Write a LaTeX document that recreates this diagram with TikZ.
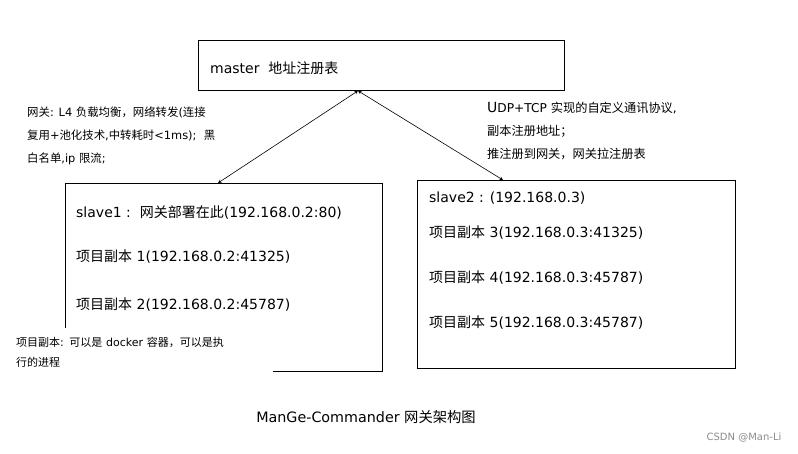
\documentclass[tikz,border=0pt]{standalone}
\usepackage{fontspec}
\setmainfont{DejaVu Sans}
\newfontfamily\zhfont{Noto Sans CJK SC}
\newcommand{\zh}[1]{{\zhfont #1}}

\begin{document}
\begin{tikzpicture}[x=1pt,y=-1pt,>=stealth,
    box/.style={draw, line width=0.8pt, anchor=north west, inner sep=0pt},
    txt/.style={anchor=west, inner sep=0pt, font=\fontsize{14}{16}\selectfont},
    note/.style={anchor=north west, align=left, inner sep=0pt, font=\fontsize{11.4}{23}\selectfont}]
  \useasboundingbox (0,0) rectangle (798,453);

  % boxes
  \node[box, minimum width=366pt, minimum height=50pt] (master) at (198,40) {};
  \node[box, minimum width=317pt, minimum height=188pt] (slave1) at (65,183) {};
  \node[box, minimum width=318pt, minimum height=188pt] (slave2) at (417,180) {};

  % master
  \node[txt] (mastertxt) at (210,68) {master\ \ \zh{地址注册表}};

  % slave1
  \node[txt] (s1head) at (76,213) {slave1 :\ \ \zh{网关部署在此}(192.168.0.2:80)};
  \node[txt] (s1rep1) at (76,257) {\zh{项目副本} 1(192.168.0.2:41325)};
  \node[txt] (s1rep2) at (76,305) {\zh{项目副本} 2(192.168.0.2:45787)};

  % slave2
  \node[txt] (s2head) at (429,198) {slave2 : (192.168.0.3)};
  \node[txt] (s2rep3) at (429,233) {\zh{项目副本} 3(192.168.0.3:41325)};
  \node[txt] (s2rep4) at (429,278) {\zh{项目副本} 4(192.168.0.3:45787)};
  \node[txt] (s2rep5) at (429,323) {\zh{项目副本} 5(192.168.0.3:45787)};

  % links
  \coordinate (mx) at (358,0);
  \coordinate (s1x) at (218,0);
  \coordinate (s2x) at (503,0);
  \draw[<->, line width=0.6pt] (master.south -| mx) -- (slave1.north -| s1x);
  \draw[<->, line width=0.6pt] (master.south -| mx) -- (slave2.north -| s2x);

  % notes
  \node[note] (gwnote) at (27,107) {\zh{网关}: L4 \zh{负载均衡，网络转发}(\zh{连接}\\
    \zh{复用}+\zh{池化技术},\zh{中转耗时}<1ms);\ \ \zh{黑}\\
    \zh{白名单},ip \zh{限流};};
  \node[note, font=\fontsize{12.2}{23}\selectfont] (protonote) at (487,102)
    {{\fontsize{14}{23}\selectfont U}DP+TCP \zh{实现的自定义通讯协议},\\
    \zh{副本注册地址；}\\
    \zh{推注册到网关，网关拉注册表}};
  \node[note, fill=white, text width=253pt, inner xsep=4pt, inner ysep=9pt,
    font=\fontsize{11}{20}\selectfont] (repnote) at (12,328)
    {\zh{项目副本}: \zh{可以是} docker \zh{容器，可以是执}\\\zh{行的进程}};

  % title
  \node[font=\fontsize{14.3}{16}\selectfont] (title) at (366,417) {ManGe-Commander \zh{网关架构图}};
  \node[font=\fontsize{10}{11}\selectfont, text=black!45] (mark) at (744,438) {CSDN @Man-Li};
\end{tikzpicture}
\end{document}
